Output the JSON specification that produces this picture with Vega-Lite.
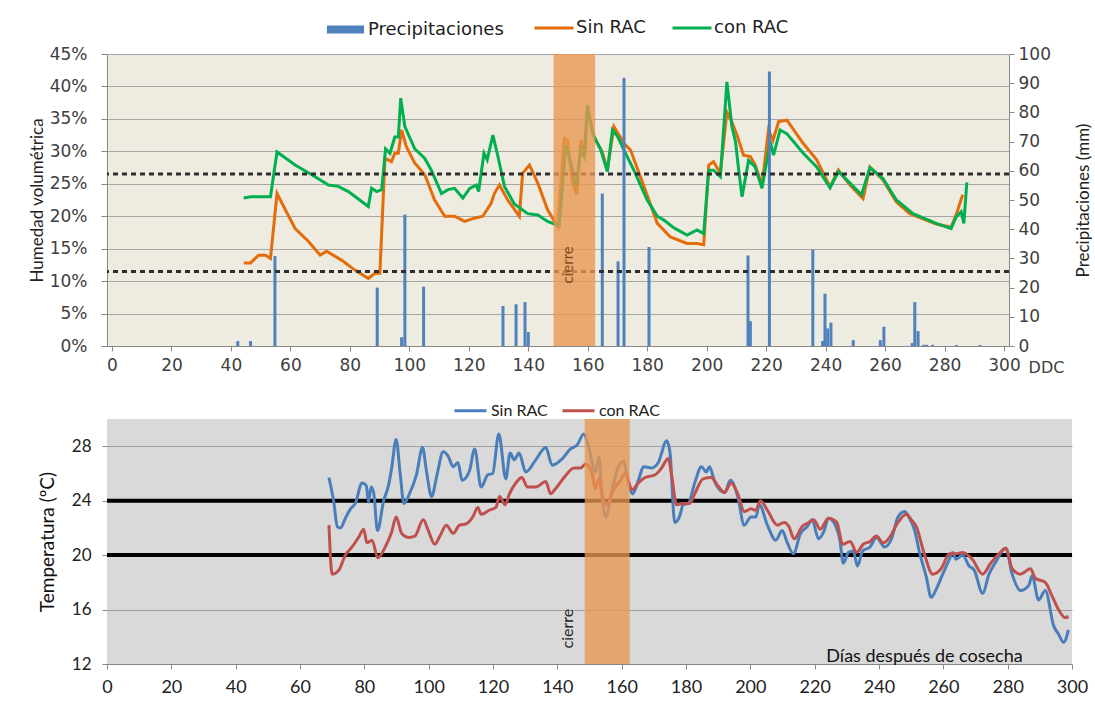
{
  "$schema": "https://vega.github.io/schema/vega-lite/v6.json",
  "background": "white",
  "padding": {"left": 28, "top": 7, "right": 0, "bottom": 5},
  "config": {"view": {"stroke": null}, "font": "Lato", "axis": {"labelOverlap": false}},
  "datasets": {
    "hum": [
      {"d":44.3,"s":"Sin RAC","v":0.128},{"d":46.6,"s":"Sin RAC","v":0.128},{"d":49.3,"s":"Sin RAC","v":0.14},{"d":51.6,"s":"Sin RAC","v":0.14},{"d":53.3,"s":"Sin RAC","v":0.135},{"d":55.5,"s":"Sin RAC","v":0.235},{"d":58.3,"s":"Sin RAC","v":0.21},{"d":61.6,"s":"Sin RAC","v":0.181},{"d":66.1,"s":"Sin RAC","v":0.161},{"d":70.0,"s":"Sin RAC","v":0.14},{"d":72.2,"s":"Sin RAC","v":0.146},{"d":77.3,"s":"Sin RAC","v":0.132},{"d":81.7,"s":"Sin RAC","v":0.117},{"d":86.2,"s":"Sin RAC","v":0.104},{"d":88.4,"s":"Sin RAC","v":0.112},{"d":90.1,"s":"Sin RAC","v":0.112},{"d":91.8,"s":"Sin RAC","v":0.289},{"d":94.0,"s":"Sin RAC","v":0.284},{"d":95.1,"s":"Sin RAC","v":0.297},{"d":96.3,"s":"Sin RAC","v":0.297},{"d":97.4,"s":"Sin RAC","v":0.333},{"d":99.0,"s":"Sin RAC","v":0.307},{"d":101.8,"s":"Sin RAC","v":0.282},{"d":105.2,"s":"Sin RAC","v":0.264},{"d":108.5,"s":"Sin RAC","v":0.225},{"d":111.9,"s":"Sin RAC","v":0.2},{"d":115.2,"s":"Sin RAC","v":0.2},{"d":118.6,"s":"Sin RAC","v":0.192},{"d":121.9,"s":"Sin RAC","v":0.197},{"d":124.7,"s":"Sin RAC","v":0.2},{"d":127.5,"s":"Sin RAC","v":0.22},{"d":128.6,"s":"Sin RAC","v":0.235},{"d":130.3,"s":"Sin RAC","v":0.248},{"d":133.1,"s":"Sin RAC","v":0.225},{"d":137.0,"s":"Sin RAC","v":0.2},{"d":138.1,"s":"Sin RAC","v":0.266},{"d":140.4,"s":"Sin RAC","v":0.279},{"d":143.2,"s":"Sin RAC","v":0.251},{"d":146.5,"s":"Sin RAC","v":0.21},{"d":149.9,"s":"Sin RAC","v":0.184},{"d":152.1,"s":"Sin RAC","v":0.32},{"d":153.2,"s":"Sin RAC","v":0.317},{"d":154.9,"s":"Sin RAC","v":0.251},{"d":156.3,"s":"Sin RAC","v":0.233},{"d":157.7,"s":"Sin RAC","v":0.317},{"d":159.1,"s":"Sin RAC","v":0.297},{"d":159.9,"s":"Sin RAC","v":0.368},{"d":162.1,"s":"Sin RAC","v":0.322},{"d":164.9,"s":"Sin RAC","v":0.299},{"d":166.6,"s":"Sin RAC","v":0.271},{"d":168.8,"s":"Sin RAC","v":0.338},{"d":172.2,"s":"Sin RAC","v":0.312},{"d":174.4,"s":"Sin RAC","v":0.302},{"d":178.9,"s":"Sin RAC","v":0.246},{"d":183.4,"s":"Sin RAC","v":0.189},{"d":187.8,"s":"Sin RAC","v":0.168},{"d":193.4,"s":"Sin RAC","v":0.158},{"d":196.8,"s":"Sin RAC","v":0.158},{"d":199.0,"s":"Sin RAC","v":0.156},{"d":200.7,"s":"Sin RAC","v":0.279},{"d":202.3,"s":"Sin RAC","v":0.284},{"d":204.6,"s":"Sin RAC","v":0.266},{"d":206.8,"s":"Sin RAC","v":0.36},{"d":208.5,"s":"Sin RAC","v":0.345},{"d":210.2,"s":"Sin RAC","v":0.325},{"d":212.4,"s":"Sin RAC","v":0.294},{"d":214.7,"s":"Sin RAC","v":0.292},{"d":216.3,"s":"Sin RAC","v":0.279},{"d":218.6,"s":"Sin RAC","v":0.248},{"d":220.8,"s":"Sin RAC","v":0.333},{"d":222.3,"s":"Sin RAC","v":0.317},{"d":224.2,"s":"Sin RAC","v":0.346},{"d":227.0,"s":"Sin RAC","v":0.348},{"d":232.5,"s":"Sin RAC","v":0.312},{"d":237.0,"s":"Sin RAC","v":0.287},{"d":241.5,"s":"Sin RAC","v":0.245},{"d":244.3,"s":"Sin RAC","v":0.271},{"d":248.2,"s":"Sin RAC","v":0.248},{"d":252.6,"s":"Sin RAC","v":0.227},{"d":254.9,"s":"Sin RAC","v":0.276},{"d":259.3,"s":"Sin RAC","v":0.256},{"d":263.8,"s":"Sin RAC","v":0.222},{"d":268.3,"s":"Sin RAC","v":0.204},{"d":277.2,"s":"Sin RAC","v":0.188},{"d":282.2,"s":"Sin RAC","v":0.183},{"d":283.9,"s":"Sin RAC","v":0.202},{"d":286.1,"s":"Sin RAC","v":0.233},
      {"d":44.3,"s":"con RAC","v":0.228},{"d":46.6,"s":"con RAC","v":0.23},{"d":53.3,"s":"con RAC","v":0.23},{"d":55.5,"s":"con RAC","v":0.299},{"d":61.6,"s":"con RAC","v":0.279},{"d":67.2,"s":"con RAC","v":0.264},{"d":72.8,"s":"con RAC","v":0.248},{"d":76.1,"s":"con RAC","v":0.246},{"d":79.5,"s":"con RAC","v":0.238},{"d":86.2,"s":"con RAC","v":0.215},{"d":87.3,"s":"con RAC","v":0.243},{"d":89.0,"s":"con RAC","v":0.238},{"d":90.7,"s":"con RAC","v":0.241},{"d":92.0,"s":"con RAC","v":0.304},{"d":93.5,"s":"con RAC","v":0.297},{"d":95.1,"s":"con RAC","v":0.322},{"d":96.3,"s":"con RAC","v":0.322},{"d":97.1,"s":"con RAC","v":0.382},{"d":98.5,"s":"con RAC","v":0.338},{"d":101.8,"s":"con RAC","v":0.304},{"d":105.2,"s":"con RAC","v":0.289},{"d":107.4,"s":"con RAC","v":0.271},{"d":110.8,"s":"con RAC","v":0.235},{"d":113.0,"s":"con RAC","v":0.241},{"d":115.2,"s":"con RAC","v":0.243},{"d":118.0,"s":"con RAC","v":0.228},{"d":120.3,"s":"con RAC","v":0.243},{"d":122.5,"s":"con RAC","v":0.248},{"d":123.3,"s":"con RAC","v":0.238},{"d":125.1,"s":"con RAC","v":0.297},{"d":126.2,"s":"con RAC","v":0.287},{"d":128.1,"s":"con RAC","v":0.325},{"d":129.8,"s":"con RAC","v":0.292},{"d":132.0,"s":"con RAC","v":0.246},{"d":135.3,"s":"con RAC","v":0.219},{"d":139.8,"s":"con RAC","v":0.204},{"d":143.2,"s":"con RAC","v":0.202},{"d":146.5,"s":"con RAC","v":0.192},{"d":150.4,"s":"con RAC","v":0.185},{"d":152.6,"s":"con RAC","v":0.309},{"d":154.3,"s":"con RAC","v":0.282},{"d":156.0,"s":"con RAC","v":0.246},{"d":157.7,"s":"con RAC","v":0.302},{"d":158.8,"s":"con RAC","v":0.292},{"d":159.9,"s":"con RAC","v":0.371},{"d":161.6,"s":"con RAC","v":0.328},{"d":164.4,"s":"con RAC","v":0.302},{"d":166.6,"s":"con RAC","v":0.269},{"d":168.3,"s":"con RAC","v":0.333},{"d":170.0,"s":"con RAC","v":0.323},{"d":172.2,"s":"con RAC","v":0.302},{"d":175.5,"s":"con RAC","v":0.271},{"d":180.0,"s":"con RAC","v":0.225},{"d":183.4,"s":"con RAC","v":0.2},{"d":185.6,"s":"con RAC","v":0.194},{"d":189.0,"s":"con RAC","v":0.182},{"d":193.4,"s":"con RAC","v":0.171},{"d":196.8,"s":"con RAC","v":0.179},{"d":199.0,"s":"con RAC","v":0.173},{"d":200.7,"s":"con RAC","v":0.271},{"d":202.3,"s":"con RAC","v":0.271},{"d":204.6,"s":"con RAC","v":0.261},{"d":206.8,"s":"con RAC","v":0.407},{"d":208.5,"s":"con RAC","v":0.338},{"d":209.7,"s":"con RAC","v":0.315},{"d":210.8,"s":"con RAC","v":0.27},{"d":211.9,"s":"con RAC","v":0.23},{"d":214.1,"s":"con RAC","v":0.286},{"d":216.3,"s":"con RAC","v":0.276},{"d":218.6,"s":"con RAC","v":0.243},{"d":221.4,"s":"con RAC","v":0.315},{"d":222.5,"s":"con RAC","v":0.294},{"d":224.7,"s":"con RAC","v":0.333},{"d":227.0,"s":"con RAC","v":0.327},{"d":232.5,"s":"con RAC","v":0.297},{"d":237.0,"s":"con RAC","v":0.276},{"d":241.5,"s":"con RAC","v":0.244},{"d":244.3,"s":"con RAC","v":0.269},{"d":248.2,"s":"con RAC","v":0.251},{"d":252.1,"s":"con RAC","v":0.233},{"d":254.9,"s":"con RAC","v":0.275},{"d":259.3,"s":"con RAC","v":0.258},{"d":263.8,"s":"con RAC","v":0.225},{"d":269.4,"s":"con RAC","v":0.204},{"d":277.2,"s":"con RAC","v":0.189},{"d":282.2,"s":"con RAC","v":0.181},{"d":283.9,"s":"con RAC","v":0.199},{"d":285.6,"s":"con RAC","v":0.207},{"d":286.5,"s":"con RAC","v":0.189},{"d":287.5,"s":"con RAC","v":0.252}
    ],
    "pp": [
      {"d":42.3,"mm":1.7},{"d":46.6,"mm":1.7},{"d":54.8,"mm":30.8},{"d":89.2,"mm":20},{"d":97.4,"mm":3},{"d":98.5,"mm":45},{"d":104.8,"mm":20.3},{"d":131.5,"mm":13.7},{"d":135.9,"mm":14.3},{"d":138.9,"mm":15},{"d":140.0,"mm":4.8},{"d":164.9,"mm":52.2},{"d":170.2,"mm":29},{"d":172.2,"mm":91.8},{"d":180.6,"mm":33.9},{"d":213.9,"mm":31},{"d":214.7,"mm":8.5},{"d":221.1,"mm":94},{"d":235.7,"mm":33},{"d":239.0,"mm":1.7},{"d":239.8,"mm":17.9},{"d":240.7,"mm":6},{"d":241.8,"mm":8},{"d":249.3,"mm":2},{"d":258.4,"mm":2},{"d":259.6,"mm":6.6},{"d":269.1,"mm":1},{"d":270.0,"mm":15},{"d":271.1,"mm":5.1},{"d":273,"mm":0.4},{"d":274,"mm":0.4},{"d":276,"mm":0.4},{"d":284,"mm":0.3},{"d":292,"mm":0.3}
    ],
    "temp": [
      {"d":69.0,"s":"Sin RAC","t":25.7},{"d":70.5,"s":"Sin RAC","t":23.9},{"d":71.6,"s":"Sin RAC","t":22.1},{"d":72.6,"s":"Sin RAC","t":22.0},{"d":74.1,"s":"Sin RAC","t":22.7},{"d":75.7,"s":"Sin RAC","t":23.4},{"d":77.2,"s":"Sin RAC","t":23.8},{"d":79.3,"s":"Sin RAC","t":25.3},{"d":80.6,"s":"Sin RAC","t":25.1},{"d":81.3,"s":"Sin RAC","t":23.9},{"d":82.1,"s":"Sin RAC","t":25.0},{"d":82.9,"s":"Sin RAC","t":24.6},{"d":84.1,"s":"Sin RAC","t":21.8},{"d":86.0,"s":"Sin RAC","t":24.0},{"d":87.5,"s":"Sin RAC","t":25.1},{"d":88.5,"s":"Sin RAC","t":26.4},{"d":89.9,"s":"Sin RAC","t":28.5},{"d":91.1,"s":"Sin RAC","t":26.1},{"d":92.3,"s":"Sin RAC","t":23.8},{"d":94.2,"s":"Sin RAC","t":24.6},{"d":96.2,"s":"Sin RAC","t":25.9},{"d":98.1,"s":"Sin RAC","t":27.9},{"d":99.3,"s":"Sin RAC","t":26.2},{"d":100.9,"s":"Sin RAC","t":24.3},{"d":102.6,"s":"Sin RAC","t":25.9},{"d":104.5,"s":"Sin RAC","t":27.6},{"d":106.0,"s":"Sin RAC","t":27.3},{"d":107.6,"s":"Sin RAC","t":26.5},{"d":109.1,"s":"Sin RAC","t":26.8},{"d":110.4,"s":"Sin RAC","t":25.5},{"d":112.7,"s":"Sin RAC","t":26.2},{"d":114.3,"s":"Sin RAC","t":27.8},{"d":116.3,"s":"Sin RAC","t":25.0},{"d":118.4,"s":"Sin RAC","t":25.9},{"d":119.9,"s":"Sin RAC","t":26.0},{"d":121.8,"s":"Sin RAC","t":28.9},{"d":124.0,"s":"Sin RAC","t":25.6},{"d":125.3,"s":"Sin RAC","t":27.5},{"d":126.6,"s":"Sin RAC","t":27.0},{"d":128.1,"s":"Sin RAC","t":27.5},{"d":130.2,"s":"Sin RAC","t":26.1},{"d":133.3,"s":"Sin RAC","t":27.0},{"d":136.4,"s":"Sin RAC","t":27.9},{"d":138.4,"s":"Sin RAC","t":26.6},{"d":141.6,"s":"Sin RAC","t":27.1},{"d":144.1,"s":"Sin RAC","t":27.8},{"d":146.2,"s":"Sin RAC","t":28.1},{"d":148.2,"s":"Sin RAC","t":28.9},{"d":149.8,"s":"Sin RAC","t":27.9},{"d":151.8,"s":"Sin RAC","t":26.1},{"d":152.9,"s":"Sin RAC","t":27.2},{"d":153.9,"s":"Sin RAC","t":24.2},{"d":155.1,"s":"Sin RAC","t":22.8},{"d":157.0,"s":"Sin RAC","t":24.8},{"d":159.0,"s":"Sin RAC","t":26.5},{"d":160.6,"s":"Sin RAC","t":26.9},{"d":161.6,"s":"Sin RAC","t":25.9},{"d":163.4,"s":"Sin RAC","t":24.5},{"d":165.2,"s":"Sin RAC","t":25.5},{"d":166.8,"s":"Sin RAC","t":26.5},{"d":169.3,"s":"Sin RAC","t":26.4},{"d":171.4,"s":"Sin RAC","t":26.8},{"d":174.0,"s":"Sin RAC","t":28.4},{"d":175.0,"s":"Sin RAC","t":27.6},{"d":176.5,"s":"Sin RAC","t":22.4},{"d":178.1,"s":"Sin RAC","t":22.9},{"d":179.1,"s":"Sin RAC","t":23.7},{"d":180.7,"s":"Sin RAC","t":23.8},{"d":182.7,"s":"Sin RAC","t":25.3},{"d":184.8,"s":"Sin RAC","t":26.5},{"d":186.3,"s":"Sin RAC","t":26.1},{"d":187.3,"s":"Sin RAC","t":26.5},{"d":188.9,"s":"Sin RAC","t":25.4},{"d":192.0,"s":"Sin RAC","t":24.6},{"d":193.8,"s":"Sin RAC","t":25.5},{"d":196.1,"s":"Sin RAC","t":24.3},{"d":198.1,"s":"Sin RAC","t":22.2},{"d":200.2,"s":"Sin RAC","t":22.8},{"d":201.7,"s":"Sin RAC","t":22.8},{"d":202.8,"s":"Sin RAC","t":23.7},{"d":205.3,"s":"Sin RAC","t":22.2},{"d":207.9,"s":"Sin RAC","t":21.1},{"d":209.9,"s":"Sin RAC","t":21.8},{"d":211.5,"s":"Sin RAC","t":20.9},{"d":213.4,"s":"Sin RAC","t":20.1},{"d":215.6,"s":"Sin RAC","t":21.6},{"d":217.7,"s":"Sin RAC","t":22.1},{"d":219.2,"s":"Sin RAC","t":22.6},{"d":221.2,"s":"Sin RAC","t":21.2},{"d":222.8,"s":"Sin RAC","t":21.7},{"d":224.3,"s":"Sin RAC","t":22.7},{"d":226.4,"s":"Sin RAC","t":22.2},{"d":227.9,"s":"Sin RAC","t":21.0},{"d":228.9,"s":"Sin RAC","t":19.4},{"d":230.5,"s":"Sin RAC","t":20.2},{"d":232.0,"s":"Sin RAC","t":20.3},{"d":233.3,"s":"Sin RAC","t":19.2},{"d":234.9,"s":"Sin RAC","t":20.3},{"d":237.2,"s":"Sin RAC","t":20.6},{"d":239.2,"s":"Sin RAC","t":21.3},{"d":241.8,"s":"Sin RAC","t":20.6},{"d":243.9,"s":"Sin RAC","t":21.2},{"d":245.9,"s":"Sin RAC","t":22.8},{"d":248.0,"s":"Sin RAC","t":23.2},{"d":249.5,"s":"Sin RAC","t":22.7},{"d":251.1,"s":"Sin RAC","t":21.8},{"d":252.6,"s":"Sin RAC","t":20.2},{"d":254.7,"s":"Sin RAC","t":18.4},{"d":256.2,"s":"Sin RAC","t":16.9},{"d":257.8,"s":"Sin RAC","t":17.5},{"d":259.8,"s":"Sin RAC","t":18.6},{"d":261.9,"s":"Sin RAC","t":19.7},{"d":262.9,"s":"Sin RAC","t":20.2},{"d":263.9,"s":"Sin RAC","t":19.7},{"d":266.0,"s":"Sin RAC","t":20.0},{"d":268.0,"s":"Sin RAC","t":19.2},{"d":269.6,"s":"Sin RAC","t":18.9},{"d":272.2,"s":"Sin RAC","t":17.2},{"d":274.2,"s":"Sin RAC","t":18.6},{"d":276.3,"s":"Sin RAC","t":19.5},{"d":279.4,"s":"Sin RAC","t":20.5},{"d":281.4,"s":"Sin RAC","t":18.6},{"d":284.0,"s":"Sin RAC","t":17.4},{"d":286.6,"s":"Sin RAC","t":17.8},{"d":287.6,"s":"Sin RAC","t":18.5},{"d":289.6,"s":"Sin RAC","t":16.7},{"d":291.7,"s":"Sin RAC","t":17.4},{"d":294.3,"s":"Sin RAC","t":14.8},{"d":295.8,"s":"Sin RAC","t":14.2},{"d":297.4,"s":"Sin RAC","t":13.6},{"d":298.9,"s":"Sin RAC","t":14.5},
      {"d":69.0,"s":"con RAC","t":22.2},{"d":70.0,"s":"con RAC","t":18.6},{"d":72.1,"s":"con RAC","t":18.9},{"d":74.1,"s":"con RAC","t":20.0},{"d":76.2,"s":"con RAC","t":20.6},{"d":78.2,"s":"con RAC","t":21.3},{"d":79.8,"s":"con RAC","t":21.9},{"d":80.8,"s":"con RAC","t":20.9},{"d":82.4,"s":"con RAC","t":21.1},{"d":84.2,"s":"con RAC","t":19.8},{"d":86.5,"s":"con RAC","t":20.6},{"d":88.5,"s":"con RAC","t":21.7},{"d":89.9,"s":"con RAC","t":22.8},{"d":91.6,"s":"con RAC","t":21.6},{"d":93.7,"s":"con RAC","t":21.3},{"d":95.7,"s":"con RAC","t":21.4},{"d":98.3,"s":"con RAC","t":22.6},{"d":99.9,"s":"con RAC","t":21.8},{"d":101.9,"s":"con RAC","t":20.8},{"d":103.5,"s":"con RAC","t":21.4},{"d":105.5,"s":"con RAC","t":22.2},{"d":107.6,"s":"con RAC","t":21.6},{"d":109.6,"s":"con RAC","t":22.2},{"d":111.7,"s":"con RAC","t":22.3},{"d":113.7,"s":"con RAC","t":22.8},{"d":115.3,"s":"con RAC","t":23.5},{"d":116.3,"s":"con RAC","t":23.0},{"d":118.9,"s":"con RAC","t":23.3},{"d":120.9,"s":"con RAC","t":23.5},{"d":122.0,"s":"con RAC","t":24.3},{"d":123.8,"s":"con RAC","t":23.7},{"d":125.1,"s":"con RAC","t":24.5},{"d":127.1,"s":"con RAC","t":25.3},{"d":129.0,"s":"con RAC","t":25.7},{"d":130.7,"s":"con RAC","t":25.0},{"d":133.3,"s":"con RAC","t":25.0},{"d":136.4,"s":"con RAC","t":25.4},{"d":137.9,"s":"con RAC","t":24.5},{"d":139.5,"s":"con RAC","t":24.9},{"d":142.1,"s":"con RAC","t":25.7},{"d":145.2,"s":"con RAC","t":26.4},{"d":147.2,"s":"con RAC","t":26.4},{"d":148.8,"s":"con RAC","t":26.7},{"d":150.8,"s":"con RAC","t":26.0},{"d":151.8,"s":"con RAC","t":24.9},{"d":152.9,"s":"con RAC","t":25.6},{"d":154.4,"s":"con RAC","t":24.0},{"d":155.4,"s":"con RAC","t":23.7},{"d":157.5,"s":"con RAC","t":24.8},{"d":159.6,"s":"con RAC","t":25.5},{"d":161.1,"s":"con RAC","t":26.0},{"d":163.2,"s":"con RAC","t":24.8},{"d":165.2,"s":"con RAC","t":25.3},{"d":167.3,"s":"con RAC","t":25.7},{"d":170.4,"s":"con RAC","t":25.9},{"d":172.4,"s":"con RAC","t":26.4},{"d":174.5,"s":"con RAC","t":27.1},{"d":175.5,"s":"con RAC","t":25.9},{"d":177.1,"s":"con RAC","t":23.7},{"d":179.1,"s":"con RAC","t":23.8},{"d":181.2,"s":"con RAC","t":23.8},{"d":182.7,"s":"con RAC","t":24.5},{"d":185.3,"s":"con RAC","t":25.6},{"d":187.9,"s":"con RAC","t":25.7},{"d":189.9,"s":"con RAC","t":25.1},{"d":192.0,"s":"con RAC","t":24.6},{"d":194.0,"s":"con RAC","t":25.3},{"d":196.1,"s":"con RAC","t":24.5},{"d":198.1,"s":"con RAC","t":23.2},{"d":200.2,"s":"con RAC","t":23.4},{"d":201.7,"s":"con RAC","t":23.3},{"d":203.1,"s":"con RAC","t":24.0},{"d":205.3,"s":"con RAC","t":23.3},{"d":208.4,"s":"con RAC","t":22.2},{"d":210.5,"s":"con RAC","t":22.4},{"d":212.0,"s":"con RAC","t":22.1},{"d":213.6,"s":"con RAC","t":21.2},{"d":216.1,"s":"con RAC","t":22.1},{"d":218.2,"s":"con RAC","t":22.4},{"d":219.7,"s":"con RAC","t":22.6},{"d":221.7,"s":"con RAC","t":21.9},{"d":224.3,"s":"con RAC","t":22.7},{"d":226.9,"s":"con RAC","t":22.4},{"d":228.7,"s":"con RAC","t":20.8},{"d":231.0,"s":"con RAC","t":21.0},{"d":233.1,"s":"con RAC","t":20.2},{"d":235.1,"s":"con RAC","t":20.8},{"d":237.2,"s":"con RAC","t":21.0},{"d":239.2,"s":"con RAC","t":21.4},{"d":241.3,"s":"con RAC","t":20.9},{"d":243.3,"s":"con RAC","t":21.3},{"d":245.9,"s":"con RAC","t":22.4},{"d":248.5,"s":"con RAC","t":23.0},{"d":250.0,"s":"con RAC","t":22.6},{"d":251.6,"s":"con RAC","t":22.1},{"d":254.2,"s":"con RAC","t":20.0},{"d":256.7,"s":"con RAC","t":18.6},{"d":259.3,"s":"con RAC","t":19.0},{"d":261.9,"s":"con RAC","t":20.1},{"d":263.9,"s":"con RAC","t":20.1},{"d":266.0,"s":"con RAC","t":20.2},{"d":269.0,"s":"con RAC","t":19.7},{"d":272.2,"s":"con RAC","t":18.6},{"d":274.7,"s":"con RAC","t":19.4},{"d":277.3,"s":"con RAC","t":20.1},{"d":279.4,"s":"con RAC","t":20.5},{"d":281.4,"s":"con RAC","t":19.0},{"d":284.0,"s":"con RAC","t":18.6},{"d":287.1,"s":"con RAC","t":19.0},{"d":288.6,"s":"con RAC","t":18.3},{"d":291.7,"s":"con RAC","t":18.0},{"d":293.8,"s":"con RAC","t":17.0},{"d":295.8,"s":"con RAC","t":16.0},{"d":297.9,"s":"con RAC","t":15.4},{"d":298.9,"s":"con RAC","t":15.5}
    ],
    "band": [{"start": 148.5, "end": 162.5}],
    "umbral_h": [{"v": 0.265}, {"v": 0.115}],
    "umbral_t": [{"t": 24}, {"t": 20}],
    "nota_h": [{"d": 153.5, "v": 0.125, "label": "cierre"}],
    "nota_t": [{"d": 143.2, "t": 14.6, "label": "cierre"}]
  },
  "vconcat": [
    {
      "width": 902,
      "height": 292,
      "view": {"fill": "#EEEBE0", "stroke": null},
      "layer": [
        {
          "data": {"name": "hum"},
          "mark": {"type": "line", "strokeWidth": 3},
          "encoding": {
            "x": {"field": "d", "type": "quantitative", "scale": {"domain": [0, 300], "nice": false},
              "axis": {"values": [0,20,40,60,80,100,120,140,160,180,200,220,240,260,280,300], "grid": false, "title": "DDC", "titleFont": "DejaVu Sans", "titleFontSize": 16, "titleFontWeight": "normal", "titleColor": "#404040", "titleX": 939, "titleY": 21, "titleBaseline": "middle", "titleAlign": "center", "labelFont": "DejaVu Sans", "labelFontSize": 17, "labelColor": "#404040", "labelPadding": 6, "domainColor": "#888888", "tickColor": "#888888", "tickSize": 5, "labelFlush": false, "labelOverlap": false}},
            "y": {"field": "v", "type": "quantitative", "scale": {"domain": [0, 0.45], "nice": false},
              "axis": {"orient": "left", "values": [0, 0.05, 0.1, 0.15, 0.2, 0.25, 0.3, 0.35, 0.4, 0.45], "format": ".0%", "labelOverlap": false, "grid": true, "gridColor": "#A6A6A6", "gridWidth": 1, "title": "Humedad volumétrica", "titleFont": "Lato", "titleFontSize": 17, "titleFontWeight": "normal", "titleColor": "#222222", "titlePadding": 3, "labelFont": "DejaVu Sans", "labelFontSize": 17, "labelColor": "#404040", "labelPadding": 14, "domainColor": "#888888", "tickColor": "#888888", "tickSize": 6}},
            "stroke": {"field": "s", "type": "nominal", "scale": {"domain": ["Sin RAC", "con RAC"], "range": ["#E46C0A", "#00B050"]},
              "legend": {"title": null, "orient": "none", "direction": "horizontal", "legendX": 426, "legendY": -47, "padding": 0, "symbolType": "stroke", "symbolSize": 1521, "symbolStrokeWidth": 3, "columnPadding": 20, "labelFont": "DejaVu Sans", "labelFontSize": 18, "labelColor": "#222222", "labelOffset": 1}}
          }
        },
        {
          "data": {"name": "pp"},
          "mark": {"type": "bar", "size": 3},
          "encoding": {
            "x": {"field": "d", "type": "quantitative"},
            "y": {"field": "mm", "type": "quantitative", "scale": {"domain": [0, 100], "nice": false},
              "axis": {"orient": "right", "values": [0,10,20,30,40,50,60,70,80,90,100], "grid": false, "title": "Precipitaciones (mm)", "titleAngle": 270, "titleFont": "Lato", "titleFontSize": 17, "titleFontWeight": "normal", "titleColor": "#222222", "titlePadding": 42, "labelFont": "DejaVu Sans", "labelFontSize": 17, "labelColor": "#404040", "labelPadding": 4, "domainColor": "#888888", "tickColor": "#888888", "tickSize": 5, "labelOverlap": false}},
            "fill": {"datum": "Precipitaciones", "type": "nominal", "scale": {"domain": ["Precipitaciones"], "range": ["#4F81BD"]},
              "legend": {"title": null, "orient": "none", "legendX": 216, "legendY": -47, "padding": 0, "symbolType": "stroke", "symbolSize": 1369, "symbolStrokeWidth": 8, "symbolStrokeColor": "#4F81BD", "labelFont": "DejaVu Sans", "labelFontSize": 18, "labelColor": "#222222", "labelOffset": 0}}
          }
        },
        {
          "data": {"name": "umbral_h"},
          "mark": {"type": "rule", "strokeWidth": 3, "strokeDash": [5, 4], "color": "#2E2E2E"},
          "encoding": {"y": {"field": "v", "type": "quantitative", "scale": {"domain": [0, 0.45], "nice": false}, "axis": null}}
        },
        {
          "data": {"name": "band"},
          "mark": {"type": "rect", "color": "#E8964F", "opacity": 0.78},
          "encoding": {"x": {"field": "start", "type": "quantitative"}, "x2": {"field": "end"}}
        },
        {
          "data": {"name": "nota_h"},
          "mark": {"type": "text", "angle": 270, "font": "Lato", "fontSize": 15, "color": "#8A4B22", "align": "center", "baseline": "middle"},
          "encoding": {"x": {"field": "d", "type": "quantitative"}, "y": {"field": "v", "type": "quantitative", "scale": {"domain": [0, 0.45], "nice": false}, "axis": null}, "text": {"field": "label"}}
        }
      ],
      "resolve": {"scale": {"y": "independent"}, "axis": {"y": "independent"}}
    },
    {
      "width": 965,
      "height": 245,
      "view": {"fill": "#D9D9D9", "stroke": null},
      "layer": [
        {
          "data": {"name": "umbral_t"},
          "mark": {"type": "rule", "strokeWidth": 4, "color": "#000000"},
          "encoding": {"y": {"field": "t", "type": "quantitative", "scale": {"domain": [12, 30], "nice": false}}}
        },
        {
          "data": {"name": "temp"},
          "mark": {"type": "line", "strokeWidth": 3, "interpolate": "monotone"},
          "encoding": {
            "x": {"field": "d", "type": "quantitative", "scale": {"domain": [0, 300], "nice": false},
              "axis": {"values": [0,20,40,60,80,100,120,140,160,180,200,220,240,260,280,300], "grid": false, "title": "Días después de cosecha", "titleFont": "Lato", "titleFontSize": 18, "titleFontWeight": "normal", "titleColor": "#111111", "titleX": 817, "titleY": -8, "titleBaseline": "middle", "titleAlign": "center", "labelFont": "Lato", "labelFontSize": 18, "labelColor": "#222222", "labelPadding": 9, "domainColor": "#888888", "tickColor": "#888888", "tickSize": 5, "labelFlush": false, "labelOverlap": false}},
            "y": {"field": "t", "type": "quantitative", "scale": {"domain": [12, 30], "nice": false},
              "axis": {"values": [12,16,20,24,28], "grid": true, "gridColor": "#9E9E9E", "gridWidth": 1, "domain": false, "title": "Temperatura (ºC)", "titleFont": "Lato", "titleFontSize": 19, "titleFontWeight": "normal", "titleColor": "#111111", "titlePadding": 14, "labelFont": "Lato", "labelFontSize": 17, "labelColor": "#222222", "labelPadding": 11, "tickColor": "#888888", "tickSize": 5, "labelOverlap": false}},
            "color": {"field": "s", "type": "nominal", "scale": {"domain": ["Sin RAC", "con RAC"], "range": ["#4A7EBB", "#C0504D"]},
              "legend": {"title": null, "orient": "none", "direction": "horizontal", "legendX": 346, "legendY": -26, "padding": 0, "symbolType": "stroke", "symbolSize": 1024, "symbolStrokeWidth": 3, "columnPadding": 8, "labelFont": "Lato", "labelFontSize": 16, "labelColor": "#222222", "labelOffset": 3}}
          }
        },
        {
          "data": {"name": "band"},
          "mark": {"type": "rect", "color": "#E8964F", "opacity": 0.78},
          "encoding": {"x": {"field": "start", "type": "quantitative"}, "x2": {"field": "end"}}
        },
        {
          "data": {"name": "nota_t"},
          "mark": {"type": "text", "angle": 270, "font": "Lato", "fontSize": 16, "color": "#222222", "align": "center", "baseline": "middle"},
          "encoding": {"x": {"field": "d", "type": "quantitative"}, "y": {"field": "t", "type": "quantitative"}, "text": {"field": "label"}}
        }
      ]
    }
  ],
  "spacing": 18,
  "resolve": {"scale": {"color": "independent", "stroke": "independent", "fill": "independent"}, "legend": {"color": "independent", "stroke": "independent", "fill": "independent"}}
}
